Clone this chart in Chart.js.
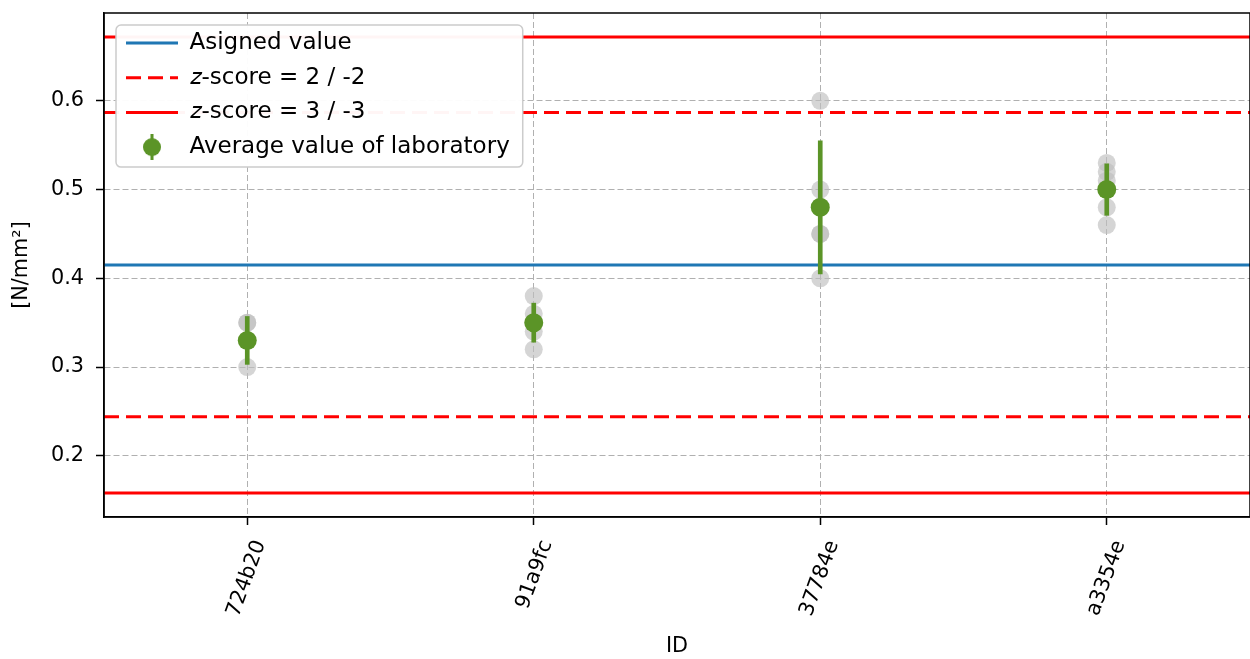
<!DOCTYPE html>
<html>
<head>
<meta charset="utf-8">
<script src="https://cdn.jsdelivr.net/npm/chart.js@4.4.0/dist/chart.umd.min.js"></script>
<style>
body { margin: 0; background: #fff; }
#wrap { width: 1250px; height: 659px; }
</style>
</head>
<body>
<div id="wrap"><canvas id="chart" width="1250" height="659"></canvas></div>
<script>
// values
var ids = ['724b20', '91a9fc', '37784e', 'a3354e'];
var labValues = [
    [0.35, 0.35, 0.30],
    [0.38, 0.36, 0.35, 0.34, 0.32],
    [0.60, 0.50, 0.45, 0.45, 0.40],
    [0.53, 0.52, 0.51, 0.48, 0.46]
];
var labMeans = [0.33, 0.35, 0.48, 0.50];
var labStd = [0.027, 0.022, 0.075, 0.029];
var assignedValue = 0.415;
var zScore2 = [0.587, 0.244];
var zScore3 = [0.672, 0.158];
var yTicks = [0.2, 0.3, 0.4, 0.5, 0.6];

var yMin = 0.131, yMax = 0.699;
var xMin = -0.5, xMax = 3.5;

var blue = '#1f77b4';
var red = '#ff0000';
var green = '#5b9427';

var LEG_FONT = 23;
var LEG_PAD = 11.7;
var LEG_BOX = 52;

Chart.defaults.font.family = 'DejaVu Sans';
Chart.defaults.color = '#000';

var grayPoints = [];
labValues.forEach(function (vals, i) {
    vals.forEach(function (v) {
        grayPoints.push({ x: i, y: v });
    });
});
var meanPoints = labMeans.map(function (m, i) { return { x: i, y: m }; });
var errBars = labMeans.map(function (m, i) { return { x: i, y: [m - labStd[i], m + labStd[i]] }; });

function hline(v) {
    return [{ x: xMin, y: v }, { x: xMax, y: v }];
}

function lineSet(label, v, color, dash) {
    return {
        type: 'line',
        label: label,
        data: hline(v),
        borderColor: color,
        backgroundColor: color,
        borderWidth: 3,
        borderDash: dash,
        pointRadius: 0,
        fill: false,
        order: 5
    };
}

function makeErrorIcon() {
    var c = document.createElement('canvas');
    c.width = 20;
    c.height = 26;
    var g = c.getContext('2d');
    g.fillStyle = green;
    g.fillRect(8.5, 0, 3, 26);
    g.beginPath();
    g.arc(10, 13, 9, 0, Math.PI * 2);
    g.fill();
    return c;
}
var errorIcon = makeErrorIcon();

var legendFrame = {
    id: 'legendFrame',
    afterLayout: function (chart) {
        // put the legend box in the upper left corner of the plot
        var lg = chart.legend;
        var w = lg.width, h = lg.height;
        lg.left = 114.3; lg.top = 19.8;
        lg.right = lg.left + w; lg.bottom = lg.top + h;
    },
    afterDatasetsDraw: function (chart) {
        var lg = chart.legend;
        var ctx = chart.ctx;
        ctx.save();
        ctx.font = LEG_FONT + 'px "DejaVu Sans"';
        var textW = ctx.measureText(chart.data.datasets[5].label).width;
        var x0 = lg.left + LEG_PAD - 10;
        var y0 = lg.top + LEG_PAD - 6.5;
        var x1 = lg.left + LEG_PAD + LEG_BOX + LEG_FONT / 2 + textW + 13;
        var y1 = lg.top + LEG_PAD + 3 * (LEG_FONT + LEG_PAD) + LEG_FONT + 8.5;
        ctx.fillStyle = 'rgba(255,255,255,0.96)';
        ctx.strokeStyle = '#cccccc';
        ctx.lineWidth = 1.5;
        ctx.beginPath();
        ctx.roundRect(x0, y0, x1 - x0, y1 - y0, 5);
        ctx.fill();
        ctx.stroke();
        ctx.restore();
        lg.draw();
    },
    afterDraw: function (chart) {
        var a = chart.chartArea;
        var ctx = chart.ctx;
        ctx.save();
        ctx.strokeStyle = '#000';
        ctx.lineWidth = 1.5;
        ctx.strokeRect(a.left, a.top, a.right - a.left, a.bottom - a.top);
        ctx.restore();
    }
};

var gridOpts = {
    color: '#b0b0b0',
    lineWidth: 1,
    offset: false,
    tickLength: 8,
    tickColor: '#000',
    tickWidth: 1.5,
    tickBorderDash: []
};

var ctx = document.getElementById('chart').getContext('2d');
new Chart(ctx, {
    type: 'scatter',
    data: {
        datasets: [
            lineSet('Asigned value', assignedValue, blue, []),
            lineSet('\uD835\uDC67-score = 2 / -2', zScore2[0], red, [15, 7]),
            lineSet('', zScore2[1], red, [15, 7]),
            lineSet('\uD835\uDC67-score = 3 / -3', zScore3[0], red, []),
            lineSet('', zScore3[1], red, []),
            {
                label: 'Average value of laboratory',
                data: meanPoints,
                pointRadius: 9.5,
                pointHoverRadius: 9.5,
                backgroundColor: green,
                borderWidth: 0,
                order: 1
            },
            {
                type: 'bar',
                label: '',
                data: errBars,
                backgroundColor: green,
                borderWidth: 0,
                barThickness: 4,
                order: 2
            },
            {
                label: '',
                data: grayPoints,
                pointRadius: 9,
                pointHoverRadius: 9,
                backgroundColor: 'rgba(190,190,190,0.65)',
                borderWidth: 0,
                order: 10
            }
        ]
    },
    plugins: [legendFrame],
    options: {
        responsive: false,
        animation: false,
        layout: { autoPadding: false, padding: { top: 13, right: 0, bottom: 0, left: 0 } },
        plugins: {
            tooltip: { enabled: false },
            legend: {
                position: 'chartArea',
                align: 'start',
                labels: {
                    usePointStyle: true,
                    pointStyleWidth: LEG_BOX,
                    padding: LEG_PAD,
                    font: { size: LEG_FONT },
                    color: '#000',
                    generateLabels: function (chart) {
                        var ds = chart.data.datasets;
                        var items = [0, 1, 3].map(function (i) {
                            return {
                                text: ds[i].label,
                                strokeStyle: ds[i].borderColor,
                                fillStyle: ds[i].borderColor,
                                lineWidth: 3,
                                lineDash: ds[i].borderDash,
                                pointStyle: 'line',
                                hidden: false,
                                datasetIndex: i
                            };
                        });
                        items.push({
                            text: ds[5].label,
                            fillStyle: green,
                            strokeStyle: green,
                            lineWidth: 0,
                            pointStyle: errorIcon,
                            hidden: false,
                            datasetIndex: 5
                        });
                        return items;
                    }
                }
            }
        },
        scales: {
            x: {
                type: 'linear',
                min: xMin,
                max: xMax,
                offset: false,
                afterBuildTicks: function (scale) {
                    scale.ticks = ids.map(function (id, i) { return { value: i }; });
                },
                afterFit: function (scale) {
                    scale.height = 142;
                    scale.paddingLeft = 0;
                    scale.paddingRight = 0;
                },
                ticks: {
                    autoSkip: false,
                    minRotation: 70,
                    maxRotation: 70,
                    labelOffset: 13,
                    padding: 12,
                    font: { size: 20.8 },
                    callback: function (v) { return ids[v]; }
                },
                grid: gridOpts,
                border: { display: true, color: '#000', width: 1.5, dash: [6, 3] },
                title: { display: true, text: 'ID', font: { size: 20.8 }, padding: { top: 4, bottom: 0 } }
            },
            y: {
                min: yMin,
                max: yMax,
                afterBuildTicks: function (scale) {
                    scale.ticks = yTicks.map(function (v) { return { value: v }; });
                },
                afterFit: function (scale) {
                    scale.width = 104;
                    scale.paddingTop = 0;
                    scale.paddingBottom = 0;
                },
                ticks: {
                    padding: 12,
                    font: { size: 20.8 },
                    callback: function (v) { return v.toFixed(1); }
                },
                grid: gridOpts,
                border: { display: true, color: '#000', width: 1.5, dash: [6, 3] },
                title: { display: true, text: '[N/mm\u00B2]', font: { size: 20.8 }, padding: { top: 9, bottom: 4 } }
            }
        }
    }
});
</script>
</body>
</html>
